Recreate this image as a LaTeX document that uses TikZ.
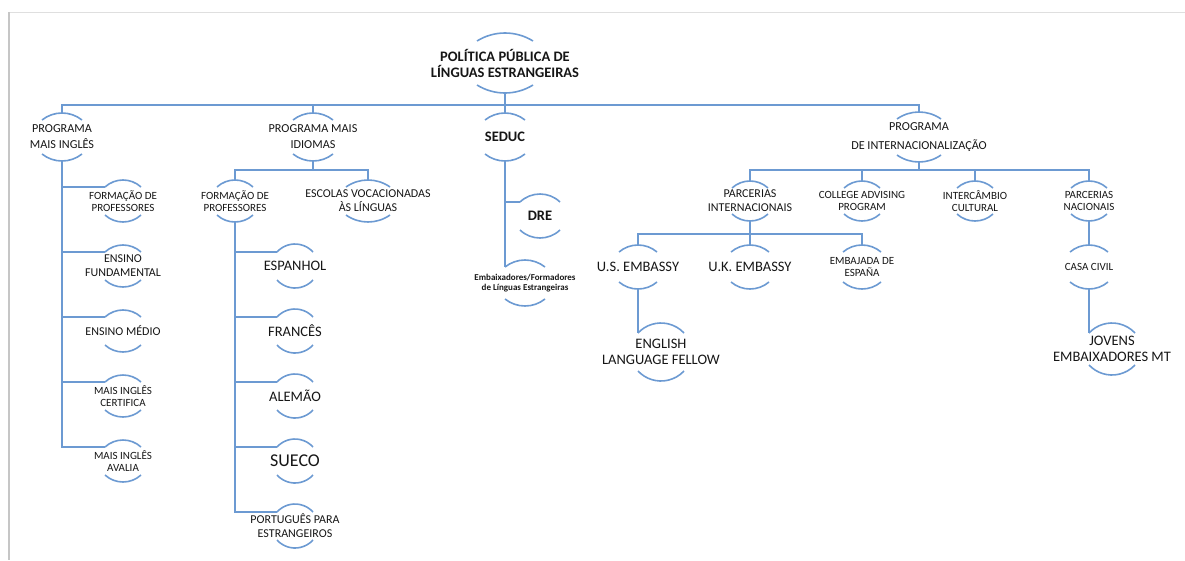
\documentclass[tikz,border=0pt]{standalone}
\usepackage{fontspec}
\setmainfont{Carlito}
\definecolor{lineblue}{RGB}{108,154,210}
\definecolor{txt}{RGB}{22,22,22}
\tikzset{
  conn/.style={draw=lineblue, line width=1.6pt},
  arcline/.style={draw=lineblue, line width=1.6pt},
  lbl/.style={text=txt, align=center, inner sep=0pt, font=\fontsize{11}{12.5}\selectfont},
  big/.style={font=\fontsize{14.5}{16.5}\selectfont},
  huge/.style={font=\fontsize{18}{20}\selectfont},
  bigb/.style={font=\bfseries\fontsize{14.5}{16}\selectfont},
  mid/.style={font=\fontsize{12.2}{16}\selectfont},
  midd/.style={font=\fontsize{12.2}{18.5}\selectfont},
  sm/.style={},
  smx/.style={font=\fontsize{12}{14}\selectfont},
  tinyb/.style={font=\bfseries\fontsize{9}{10.5}\selectfont},
}
% #1 style, #2 name, #3 cx, #4 cy, #5 half width, #6 half height, #7 sagitta, #8 text
\newcommand\ArcNode[8]{%
  \node[lbl,#1] (#2) at (#3,#4) {#8};
  \coordinate (#2-tl) at (#3-#5,#4-#6);
  \coordinate (#2-t) at (#3,#4-#6-#7);
  \coordinate (#2-b) at (#3,#4+#6+#7);
  \pgfmathsetmacro\ArcRad{(#5*#5+#7*#7)/(2*#7)}%
  \pgfmathsetmacro\ArcAng{asin(#5/\ArcRad)}%
  \draw[arcline] (#3-#5,#4-#6) arc[start angle={270-\ArcAng}, end angle={270+\ArcAng}, radius=\ArcRad];
  \draw[arcline] (#3-#5,#4+#6) arc[start angle={90+\ArcAng}, end angle={90-\ArcAng}, radius=\ArcRad];
}
\begin{document}
\begin{tikzpicture}[x=1pt,y=-1pt]
\useasboundingbox (0,0) rectangle (1185,560);
% page frame
\draw[gray!25, line width=1.5pt] (8,12.5) -- (1185,12.5);
\draw[gray!45, line width=2.5pt] (9,12) -- (9,560);

% root and level 1
\ArcNode{bigb}{R}{505}{63}{28}{22}{8}{POLÍTICA PÚBLICA DE\\LÍNGUAS ESTRANGEIRAS}
\ArcNode{mid}{A}{62}{137}{20}{17}{7}{PROGRAMA\\MAIS INGLÊS}
\ArcNode{mid}{B}{313}{137}{20}{17}{7}{PROGRAMA MAIS\\IDIOMAS}
\ArcNode{bigb}{C}{505}{137}{20}{17}{7}{SEDUC}
\ArcNode{midd}{D}{919}{137}{22}{18}{7}{PROGRAMA\\DE INTERNACIONALIZAÇÃO}

% Programa Mais Inglês children
\ArcNode{sm}{A1}{123}{201}{18}{14}{7}{FORMAÇÃO DE\\PROFESSORES}
\ArcNode{smx}{A2}{123}{266}{18}{14}{7}{ENSINO\\FUNDAMENTAL}
\ArcNode{smx}{A3}{123}{331}{18}{14}{7}{ENSINO MÉDIO}
\ArcNode{sm}{A4}{123}{396}{18}{14}{7}{MAIS INGLÊS\\CERTIFICA}
\ArcNode{sm}{A5}{123}{461}{18}{14}{7}{MAIS INGLÊS\\AVALIA}

% Programa Mais Idiomas children
\ArcNode{sm}{B1}{235}{201}{18}{14}{7}{FORMAÇÃO DE\\PROFESSORES}
\ArcNode{smx}{B2}{368}{201}{22}{14}{7}{ESCOLAS VOCACIONADAS\\ÀS LÍNGUAS}
\ArcNode{big}{L1}{295}{266}{18}{14}{8}{ESPANHOL}
\ArcNode{big}{L2}{295}{331}{18}{14}{8}{FRANCÊS}
\ArcNode{big}{L3}{295}{396}{18}{14}{8}{ALEMÃO}
\ArcNode{huge}{L4}{295}{461}{18}{14}{8}{SUECO}
\ArcNode{smx}{L5}{295}{526}{18}{14}{8}{PORTUGUÊS PARA\\ESTRANGEIROS}

% SEDUC children
\ArcNode{bigb}{S1}{540}{216}{20}{14}{8}{DRE}
\ArcNode{tinyb}{S2}{525}{283}{20}{16}{7}{Embaixadores/Formadores\\de Línguas Estrangeiras}

% Internacionalização children
\ArcNode{smx}{D1}{750}{201}{18}{13}{7}{PARCERIAS\\INTERNACIONAIS}
\ArcNode{sm}{D2}{862}{201}{18}{13}{7}{COLLEGE ADVISING\\PROGRAM}
\ArcNode{sm}{D3}{975}{201}{18}{13}{7}{INTERCÂMBIO\\CULTURAL}
\ArcNode{sm}{D4}{1089}{201}{18}{13}{7}{PARCERIAS\\NACIONAIS}
\ArcNode{big}{P1}{638}{267}{19}{15}{7}{U.S. EMBASSY}
\ArcNode{big}{P2}{750}{267}{19}{15}{7}{U.K. EMBASSY}
\ArcNode{sm}{P3}{862}{267}{19}{15}{7}{EMBAJADA DE\\ESPAÑA}
\ArcNode{sm}{N1}{1089}{267}{19}{15}{7}{CASA CIVIL}
\ArcNode{big}{E1}{661}{352}{23}{19}{10}{ENGLISH\\LANGUAGE FELLOW}
\ArcNode{big}{J1}{1112}{349}{23}{16}{10}{JOVENS\\EMBAIXADORES MT}

% buses
\coordinate (bus1) at (505,105);
\coordinate (busB) at (313,170);
\coordinate (busD) at (919,170);
\coordinate (busP) at (750,234);

% connectors
\draw[conn] (R-b) -- (C-t);
\draw[conn] (A-t) |- (bus1) -| (D-t);
\draw[conn] (B-t) -- (B-t |- bus1);

\foreach \k in {1,...,5} { \draw[conn] (A-b) |- (A\k-tl); }

\draw[conn] (B-b) -- (busB);
\draw[conn] (B1-t) |- (busB) -| (B2-t);
\foreach \k in {1,...,5} { \draw[conn] (B1-b) |- (L\k-tl); }

\draw[conn] (C-b) |- (S1-tl);
\draw[conn] (C-b) |- (S2-tl);

\draw[conn] (D-b) -- (busD);
\draw[conn] (D1-t) |- (busD) -| (D4-t);
\draw[conn] (D2-t) -- (D2-t |- busD);
\draw[conn] (D3-t) -- (D3-t |- busD);

\draw[conn] (D1-b) -- (P2-t);
\draw[conn] (P1-t) |- (busP) -| (P3-t);
\draw[conn] (P1-b) |- (E1-tl);

\draw[conn] (D4-b) -- (N1-t);
\draw[conn] (N1-b) |- (J1-tl);
\end{tikzpicture}
\end{document}
